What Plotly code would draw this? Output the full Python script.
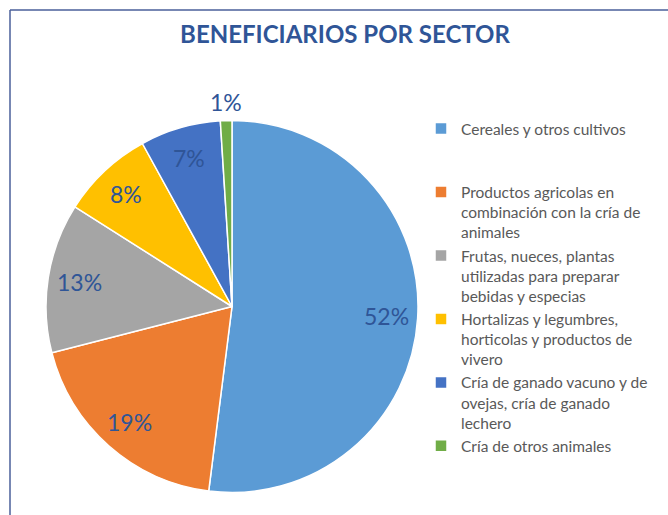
import math
import plotly.graph_objects as go

labels = [
    "Cereales y otros cultivos",
    "Productos agricolas en combinación con la cría de animales",
    "Frutas, nueces, plantas utilizadas para preparar bebidas y especias",
    "Hortalizas y legumbres, horticolas y productos de vivero",
    "Cría de ganado vacuno y de ovejas, cría de ganado lechero",
    "Cría de otros animales",
]
legend_text = [
    "Cereales y otros cultivos<br> <br> ",
    "Productos agricolas en<br>combinación con la cría de<br>animales",
    "Frutas, nueces, plantas<br>utilizadas para preparar<br>bebidas y especias",
    "Hortalizas y legumbres,<br>horticolas y productos de<br>vivero",
    "Cría de ganado vacuno y de<br>ovejas, cría de ganado<br>lechero",
    "Cría de otros animales",
]
values = [52, 19, 13, 8, 7, 1]
colors = ["#5B9BD5", "#ED7D31", "#A5A5A5", "#FFC000", "#4472C4", "#70AD47"]

W, H = 668, 515
cx, cy, r = 232, 306.5, 186  # pie centre / radius in pixels

fig = go.Figure(go.Pie(
    labels=legend_text,
    values=values,
    sort=False,
    direction="clockwise",
    rotation=0,
    marker=dict(colors=colors, line=dict(color="white", width=1.5)),
    textinfo="none",
    hoverinfo="label+percent",
    domain=dict(x=[(cx - r) / W, (cx + r) / W], y=[(H - cy - r) / H, (H - cy + r) / H]),
))

# data labels placed along each slice's mid-angle
total = sum(values)
cum = 0
annotations = []
for v in values:
    theta = 2 * math.pi * (cum + v / 2) / total
    cum += v
    k = 0.83 if v / total > 0.03 else 1.1
    px = cx + k * r * math.sin(theta)
    py = cy - k * r * math.cos(theta)
    annotations.append(dict(
        x=px / W, y=1 - py / H, xref="paper", yref="paper",
        text=f"{round(100 * v / total)}%", showarrow=False,
        font=dict(family="Lato, sans-serif", size=23, color="#2F5597"),
        xanchor="center", yanchor="middle",
    ))

fig.update_layout(
    width=W, height=H,
    margin=dict(l=0, r=0, t=0, b=0),
    paper_bgcolor="white",
    plot_bgcolor="white",
    title=dict(
        text="<b>BENEFICIARIOS POR SECTOR</b>",
        x=345 / W, y=1 - 35 / H, xanchor="center", yanchor="middle",
        font=dict(family="Lato, sans-serif", size=24, color="#2F5597"),
    ),
    legend=dict(
        x=421 / W, y=1 - 112 / H, xanchor="left", yanchor="top",
        font=dict(family="Lato, sans-serif", size=15.5, color="#595959"),
        valign="top",
        bgcolor="rgba(0,0,0,0)",
    ),
    annotations=annotations,
    shapes=[
        dict(type="line", xref="paper", yref="paper",
             x0=10 / W, y0=0, x1=10 / W, y1=1 - 10 / H,
             line=dict(color="#4A5F9A", width=1.5)),
        dict(type="line", xref="paper", yref="paper",
             x0=10 / W, y0=1 - 10 / H, x1=1, y1=1 - 10 / H,
             line=dict(color="#4A5F9A", width=1.5)),
    ],
)

fig.write_html(
    "out.html",
    config={"displayModeBar": False},
    post_script="document.body.style.margin='0';document.body.style.overflow='hidden';",
)
